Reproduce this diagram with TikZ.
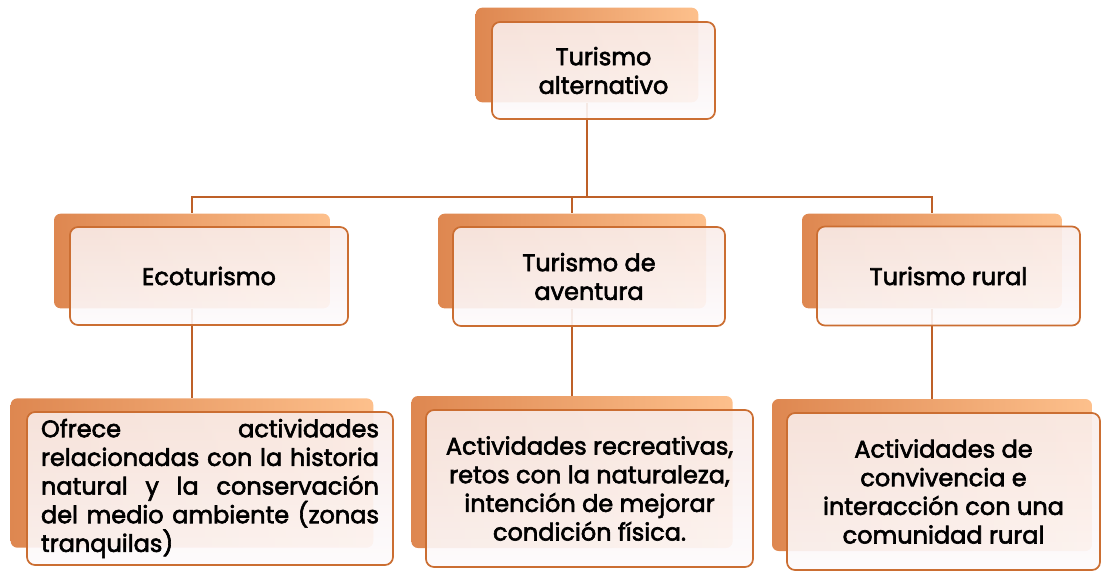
\documentclass[tikz,border=0pt]{standalone}
\usepackage{fontspec}
\setmainfont{Poppins}[FakeBold=2.5]
\usepackage{tikz}
\usetikzlibrary{calc}

\definecolor{borde}{RGB}{203,110,50}
\definecolor{linea}{RGB}{190,96,40}
\definecolor{sombraA}{RGB}{222,135,80}
\definecolor{sombraB}{RGB}{253,192,140}
\definecolor{fondoA}{RGB}{249,236,233}
\definecolor{fondoB}{RGB}{253,250,252}

\begin{document}
\begin{tikzpicture}[x=0.75pt,y=0.75pt,yscale=-1,xscale=1,
    sombra/.style={rounded corners=5pt, left color=sombraA, right color=sombraB, draw=none, inner sep=0pt},
    caja/.style={rounded corners=6pt, draw=borde, line width=1.3pt, top color=fondoA, bottom color=fondoB, fill opacity=0.9, text opacity=1, inner sep=0pt, align=center, font=\fontsize{18}{21.5}\selectfont},
    conector/.style={draw=linea, line width=1.5pt}]
            \useasboundingbox (0,0) rectangle (1103,572);

            %Shape: Shadows
            \node [sombra, minimum width=167pt, minimum height=71pt] (s-alt) at (587,55) {};
            \node [sombra, minimum width=207pt, minimum height=71pt] (s-eco) at (192,261) {};
            \node [sombra, minimum width=201pt, minimum height=71pt] (s-ave) at (572,261) {};
            \node [sombra, minimum width=195pt, minimum height=71pt] (s-rur) at (932,261) {};
            \node [sombra, minimum width=272pt, minimum height=112pt] (s-ecob) at (192,473) {};
            \node [sombra, minimum width=241pt, minimum height=114pt] (s-aveb) at (572,472) {};
            \node [sombra, minimum width=240pt, minimum height=114pt] (s-rurb) at (932,475) {};

            %Shape: Connectors
            \coordinate (bus) at (0,197);
            \draw [conector] (s-alt.south) -- (s-alt.south |- bus) -| (s-eco.north);
            \draw [conector] (s-alt.south |- bus) -| (s-ave.north);
            \draw [conector] (s-alt.south |- bus) -| (s-rur.north);
            \draw [conector] (s-eco.south) -- (s-ecob.north);
            \draw [conector] (s-ave.south) -- (s-aveb.north);
            \draw [conector] (s-rur.south) -- (s-rurb.north);

            % Text Node
            \node [caja, minimum width=167.25pt, minimum height=72.75pt] (alt) at (603.5,70.5) {Turismo\\alternativo};
            % Text Node
            \node [caja, minimum width=208.5pt, minimum height=73.5pt] (eco) at (209,276) {Ecoturismo};
            % Text Node
            \node [caja, minimum width=204pt, minimum height=74.25pt] (ave) at (589,276.5) {Turismo de\\aventura};
            % Text Node
            \node [caja, minimum width=197.25pt, minimum height=74.25pt] (rur) at (948.5,276) {Turismo rural};
            % Text Node
            \node [caja, align=left, text width=253.5pt, minimum width=274.5pt, minimum height=114.75pt] (ecob) at (210,488.5) {Ofrece\hfill actividades\\ relacionadas\hfill con\hfill la\hfill historia\\ natural\hfill y\hfill la\hfill conservación\\ del\hfill medio\hfill ambiente\hfill (zonas\\ tranquilas)};
            % Text Node
            \node [caja, minimum width=245.25pt, minimum height=117.75pt] (aveb) at (589.5,488.5) {Actividades recreativas,\\retos con la naturaleza,\\intención de mejorar\\condición física.};
            % Text Node
            \node [caja, minimum width=234.75pt, minimum height=117.75pt] (rurb) at (943.5,491.5) {Actividades de\\convivencia e\\interacción con una\\comunidad rural};
        \end{tikzpicture}
\end{document}
